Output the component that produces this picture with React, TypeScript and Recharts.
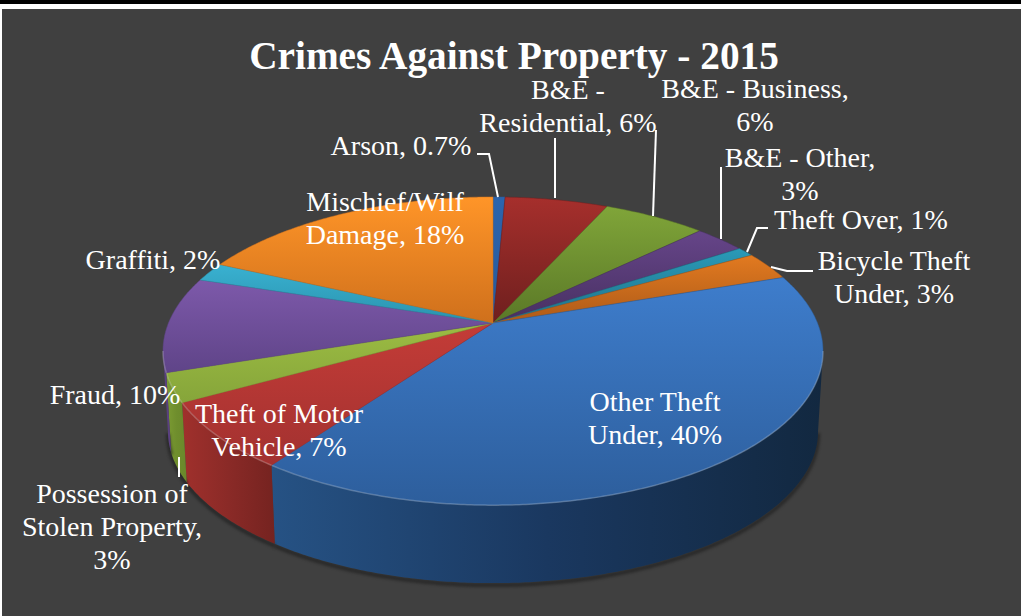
import React from 'react';
import { PieChart, Pie } from 'recharts';

const TITLE = 'Crimes Against Property - 2015';
const SLICE_NAMES = ['Arson', 'B&E - Residential', 'B&E - Business', 'B&E - Other', 'Theft Over', 'Bicycle Theft Under', 'Other Theft Under', 'Theft of Motor Vehicle', 'Possession of Stolen Property', 'Fraud', 'Graffiti', 'Mischief/Wilf Damage'];
const SLICE_VALUES = [0.7, 6, 6, 3, 1, 3, 40, 7, 3, 10, 2, 18];
const LABEL_LINES = [
  ['Arson, 0.7%'],
  ['B&E -', 'Residential, 6%'],
  ['B&E - Business,', '6%'],
  ['B&E - Other,', '3%'],
  ['Theft Over, 1%'],
  ['Bicycle Theft', 'Under, 3%'],
  ['Other Theft', 'Under, 40%'],
  ['Theft of Motor', 'Vehicle, 7%'],
  ['Possession of', 'Stolen Property,', '3%'],
  ['Fraud, 10%'],
  ['Graffiti, 2%'],
  ['Mischief/Wilf', 'Damage, 18%'],
];

// Presentation only
const TOP_COLORS = [
  ['#2c65ad', '#28599a'], ['#a62f2c', '#6e1f1e'], ['#80a539', '#5a7827'], ['#664589', '#473061'],
  ['#2a9ab8', '#1f7288'], ['#e27a20', '#ad5a18'], ['#3e7dcc', '#2d5e9c'], ['#c43c37', '#a23130'],
  ['#9cbc43', '#86a53a'], ['#7d59aa', '#5f4488'], ['#39b1d1', '#2a93ad'], ['#ff9528', '#cf701c'],
];
const WALL_COLORS: Record<number, string[]> = {
  6: ['#265284', '#1a3860', '#122840'],
  7: ['#a0302c', '#8a2a27', '#752320'],
  8: ['#7c9c33', '#6f8e2d', '#6a882b'],
  9: ['#5a4080', '#5a4080', '#5a4080'],
};
const LABEL_LAYOUT: { x: number; y: number; leader?: number[][] }[] = [
  { x: 401, y: 155, leader: [[477, 154], [489, 154], [498, 197]] },
  { x: 568, y: 99, leader: [[555, 138], [555, 198]] },
  { x: 755, y: 98, leader: [[656, 130], [653, 216]] },
  { x: 800, y: 167, leader: [[721, 167], [721, 239]] },
  { x: 861, y: 229, leader: [[768, 228], [757, 228], [747, 252]] },
  { x: 894, y: 270, leader: [[771, 267], [787, 271], [813, 271]] },
  { x: 655, y: 411 },
  { x: 279, y: 423 },
  { x: 112, y: 503, leader: [[179, 457], [179, 477]] },
  { x: 115, y: 404 },
  { x: 153, y: 269 },
  { x: 385, y: 211 },
];
const SERIF = '"Liberation Serif", serif';
const LINE_STEP = 32.8;
const OUTER = 150;
const RX = 324.5 / OUTER;
const RY = 149 / OUTER;
const PERSP = 0.182;
const WALL_DROP = 80.7;
const WALL_SCALE = 0.985;
const FRONT_FROM = 100.5;
const FRONT_TO = 259.5;

const rows = SLICE_NAMES.map((name, i) => ({ name, value: SLICE_VALUES[i] }));

function project(cx: number, cy: number, r: number, theta: number, scale = 1, drop = 0) {
  const t = (theta * Math.PI) / 180;
  const u = Math.sin(t);
  const v = -Math.cos(t);
  const den = 1 - PERSP * v;
  return [cx + (scale * RX * r * u) / den, cy + drop + (scale * RY * r * v) / den];
}
function arc(cx: number, cy: number, r: number, a: number, b: number, scale = 1, drop = 0) {
  const n = Math.max(2, Math.ceil(Math.abs(b - a) * 2));
  const pts: number[][] = [];
  for (let i = 0; i <= n; i++) pts.push(project(cx, cy, r, a + ((b - a) * i) / n, scale, drop));
  return pts;
}
const toD = (p: number[][]) => p.map((q, i) => `${i ? 'L' : 'M'}${q[0].toFixed(2)},${q[1].toFixed(2)}`).join('');

function Slice3D(props: any) {
  const { cx, cy, outerRadius, startAngle, endAngle, index } = props;
  const i: number = index ?? SLICE_NAMES.indexOf(props.name);
  const a = 90 - startAngle;
  const b = 90 - endAngle;
  const rimPts = arc(cx, cy, outerRadius, a, b);
  const top = toD([[cx, cy], ...rimPts]) + 'Z';
  const wa = Math.max(a, FRONT_FROM);
  const wb = Math.min(b, FRONT_TO);
  const hasWall = wb > wa;
  const [c1, c2] = TOP_COLORS[i];
  const wc = WALL_COLORS[i];
  return (
    <g>
      <defs>
        <linearGradient id={`top${i}`} x1="0" y1="0" x2="0" y2="1">
          <stop offset="0" stopColor={c1} />
          <stop offset="1" stopColor={c2} />
        </linearGradient>
        {wc && (
          <linearGradient id={`wall${i}`} x1="0" y1="0" x2="1" y2="0">
            <stop offset="0" stopColor={wc[0]} />
            <stop offset="0.5" stopColor={wc[1]} />
            <stop offset="1" stopColor={wc[2]} />
          </linearGradient>
        )}
      </defs>
      {hasWall && (
        <>
          <path
            d={toD(arc(cx, cy, outerRadius, wa, wb, WALL_SCALE, WALL_DROP + 2))}
            fill="none"
            stroke="#1c1c1c"
            strokeWidth={4}
            opacity={0.65}
            style={{ filter: 'blur(1.5px)' }}
          />
          <path
            d={toD([...arc(cx, cy, outerRadius, wa, wb), ...arc(cx, cy, outerRadius, wa, wb, WALL_SCALE, WALL_DROP).reverse()]) + 'Z'}
            fill={`url(#wall${i})`}
          />
        </>
      )}
      <path d={top} fill={`url(#top${i})`} stroke={c2} strokeWidth={0.5} />
      {hasWall && (
        <path d={toD(arc(cx, cy, outerRadius, wa, wb))} fill="none" stroke="#ffffff" strokeOpacity={0.22} strokeWidth={1.5} />
      )}
    </g>
  );
}

function SliceLabel(props: any) {
  const i: number = props.index;
  const lay = LABEL_LAYOUT[i];
  return (
    <g>
      {lay.leader && <path d={toD(lay.leader)} fill="none" stroke="#ffffff" strokeWidth={2} />}
      <text x={lay.x} y={lay.y} textAnchor="middle" fill="#ffffff" fontFamily={SERIF} fontSize={28}>
        {LABEL_LINES[i].map((line, k) => (
          <tspan key={k} x={lay.x} y={lay.y + k * LINE_STEP}>{line}</tspan>
        ))}
      </text>
    </g>
  );
}

export default function App() {
  return (
    <div style={{ position: 'absolute', left: 0, top: 0, width: 1021, height: 616, background: '#ffffff', overflow: 'hidden' }}>
      <div style={{ position: 'absolute', left: 0, top: 0, width: 1021, height: 4, background: '#000000' }} />
      <div style={{ position: 'absolute', left: 2, top: 9, width: 1019, height: 607, background: '#404040' }} />
      <div style={{ position: 'absolute', left: 0, top: 0 }}>
        <PieChart width={1021} height={616} margin={{ top: 0, right: 0, bottom: 0, left: 0 }}>
          <text x={514} y={69} textAnchor="middle" fill="#ffffff" fontFamily={SERIF} fontWeight={700} fontSize={39.3}>{TITLE}</text>
          <Pie
            data={rows}
            dataKey="value"
            nameKey="name"
            cx={493}
            cy={323}
            innerRadius={0}
            outerRadius={OUTER}
            startAngle={90}
            endAngle={-270}
            stroke="none"
            isAnimationActive={false}
            shape={Slice3D}
            label={SliceLabel}
            labelLine={false}
          />
        </PieChart>
      </div>
    </div>
  );
}
